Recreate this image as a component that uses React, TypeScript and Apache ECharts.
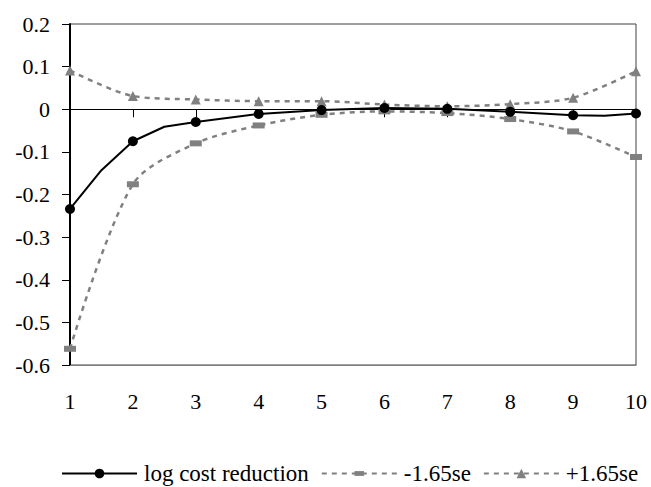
import React, { useEffect, useRef } from "react";
import * as echarts from "echarts";

// Estimated values
const logCostX = [1, 1.5, 2, 2.5, 3, 4, 5, 6, 7, 8, 9, 9.5, 10];
const logCostY = [-0.234, -0.143, -0.075, -0.041, -0.03, -0.011, -0.002, 0.003, 0.001, -0.006, -0.014, -0.015, -0.01];
const bandX = [1, 2, 3, 4, 5, 6, 7, 8, 9, 10];
const lowerY = [-0.562, -0.176, -0.08, -0.038, -0.013, -0.005, -0.009, -0.023, -0.052, -0.112];
const upperY = [0.091, 0.031, 0.023, 0.019, 0.019, 0.011, 0.007, 0.012, 0.027, 0.089];
const seriesNames = ["log cost reduction", "-1.65se", "+1.65se"];

const FONT = "'Liberation Serif', 'Times New Roman', serif";
const GRAY = "#808080";
const RECT_SYMBOL = "path://M0,0M12,12M0,3L12,3L12,9L0,9Z";

export default function App() {
  const ref = useRef<HTMLDivElement>(null);
  useEffect(() => {
    if (!ref.current) return;
    const chart = echarts.init(ref.current, null, { renderer: "svg" });
    const logData = logCostX.map((x, i) =>
      Number.isInteger(x)
        ? { value: [x, logCostY[i]] }
        : { value: [x, logCostY[i]], symbol: "none" }
    );
    chart.setOption({
      animation: false,
      backgroundColor: "#fff",
      grid: {
        left: 70,
        right: 15,
        top: 24,
        bottom: 122,
        show: true,
        borderColor: "#404040",
        borderWidth: 1,
        backgroundColor: "transparent",
      },
      legend: {
        left: 61,
        top: 462,
        padding: 0,
        itemWidth: 75,
        itemHeight: 12,
        itemGap: 12,
        data: seriesNames,
        textStyle: { fontFamily: FONT, fontSize: 23, color: "#000", padding: [0, 0, 0, 2] },
      },
      xAxis: [
        {
          type: "value",
          min: 1,
          max: 10,
          interval: 1,
          position: "bottom",
          axisLine: { show: true, onZero: false, lineStyle: { color: GRAY, width: 1 } },
          axisTick: { show: false },
          splitLine: { show: false },
          axisLabel: { fontFamily: FONT, fontSize: 22, color: "#000", margin: 25 },
        },
        {
          type: "value",
          min: 1,
          max: 10,
          interval: 1,
          position: "bottom",
          axisLine: { show: true, onZero: true, lineStyle: { color: "#000", width: 1 } },
          axisTick: { show: true, inside: false, length: 8, lineStyle: { color: "#000" } },
          splitLine: { show: false },
          axisLabel: { show: false },
        },
      ],
      yAxis: {
        type: "value",
        min: -0.6,
        max: 0.2,
        interval: 0.1,
        axisLine: { show: true, lineStyle: { color: "#000", width: 2 } },
        axisTick: { show: true, inside: false, length: 8, lineStyle: { color: "#000" } },
        splitLine: { show: false },
        axisLabel: {
          fontFamily: FONT,
          fontSize: 22,
          color: "#000",
          margin: 20,
          formatter: (v: number) => String(Math.round(v * 10) / 10),
        },
      },
      series: [
        {
          name: seriesNames[0],
          type: "line",
          xAxisIndex: 0,
          data: logData,
          smooth: false,
          symbol: "circle",
          symbolSize: 10,
          lineStyle: { color: "#000", width: 2 },
          itemStyle: { color: "#000" },
          z: 5,
        },
        {
          name: seriesNames[1],
          type: "line",
          xAxisIndex: 0,
          data: bandX.map((x, i) => [x, lowerY[i]]),
          smooth: 0.3,
          symbol: RECT_SYMBOL,
          symbolSize: 12,
          lineStyle: { color: GRAY, width: 2.5, type: [5, 5] },
          itemStyle: { color: GRAY },
          z: 3,
        },
        {
          name: seriesNames[2],
          type: "line",
          xAxisIndex: 0,
          data: bandX.map((x, i) => [x, upperY[i]]),
          smooth: 0.3,
          symbol: "triangle",
          symbolSize: 10,
          lineStyle: { color: GRAY, width: 2.5, type: [5, 5] },
          itemStyle: { color: GRAY },
          z: 4,
        },
      ],
    });
    return () => chart.dispose();
  }, []);
  return (
    <div
      ref={ref}
      style={{ position: "fixed", left: 0, top: 0, width: 651, height: 487, background: "#fff" }}
    />
  );
}
